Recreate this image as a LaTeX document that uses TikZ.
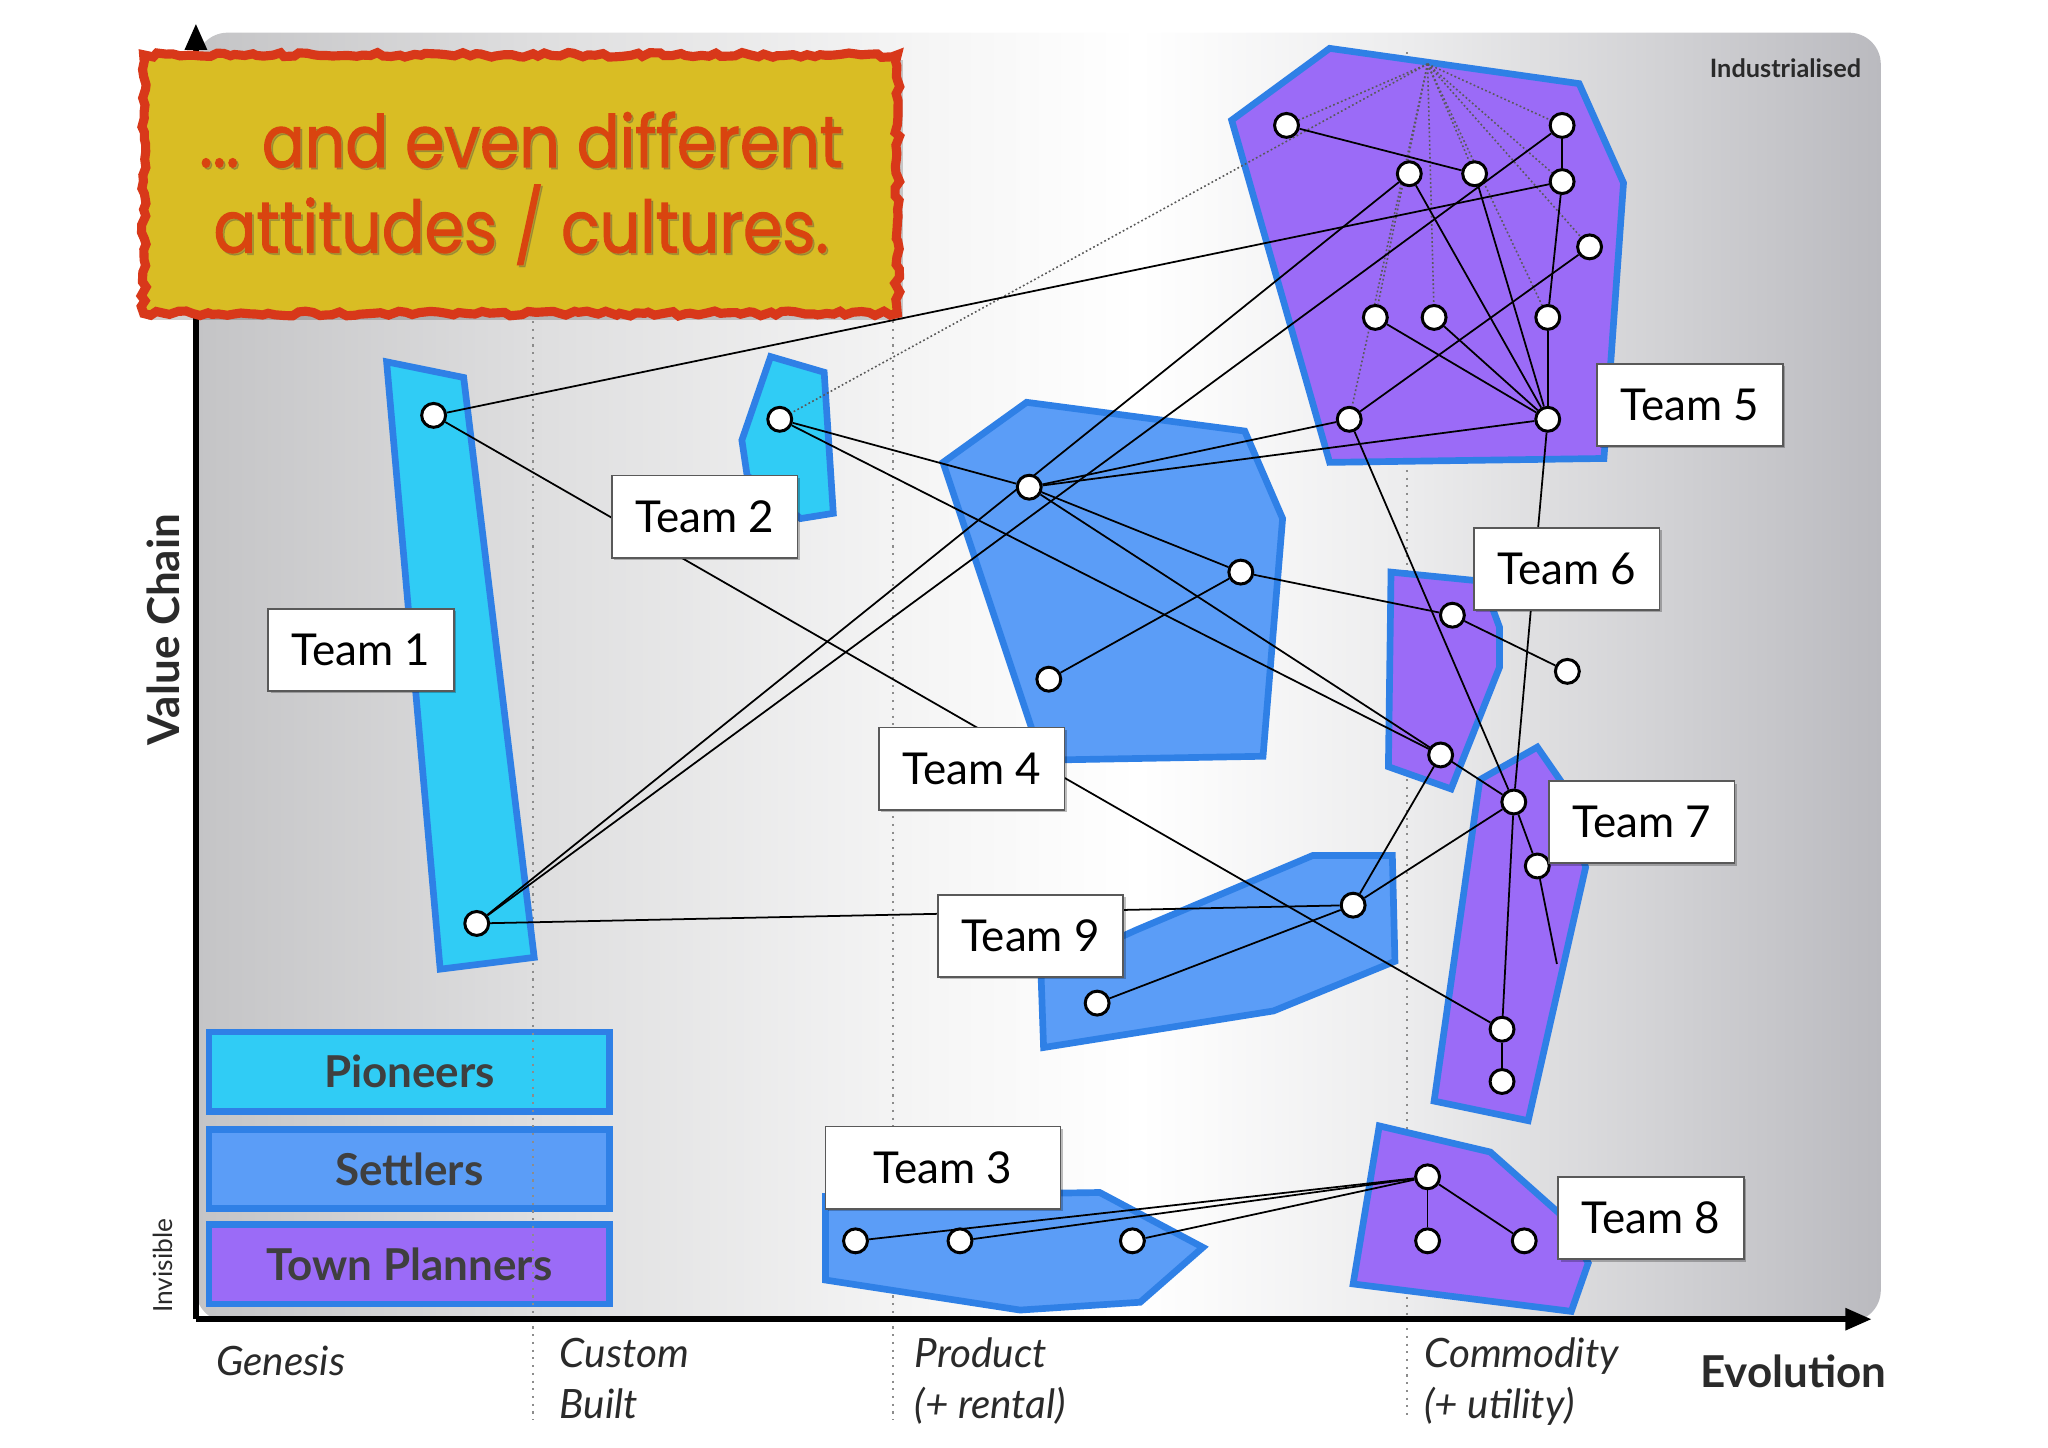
\documentclass[tikz,border=0pt]{standalone}
\usepackage{fontspec}
\setmainfont{Lato}
\newfontfamily\comicfont[FakeBold=1.6]{Poppins}
\usetikzlibrary{arrows.meta,shadows,decorations.pathmorphing}
\pgfdeclarelayer{bg}
\pgfdeclarelayer{lines}
\pgfsetlayers{bg,lines,main}

\definecolor{pion}{HTML}{30CCF5}
\definecolor{sett}{HTML}{5B9DF7}
\definecolor{town}{HTML}{9B6BF7}
\definecolor{bord}{HTML}{2F80E6}
\definecolor{ybox}{HTML}{D9BD24}
\definecolor{yred}{HTML}{D8381A}
\definecolor{ytext}{HTML}{D9440F}
\definecolor{txt}{HTML}{2A2A2A}
\definecolor{pg0}{RGB}{196,196,198}
\definecolor{pg1}{RGB}{222,222,223}
\definecolor{pg2}{RGB}{246,246,246}
\definecolor{pg3}{RGB}{236,236,237}
\definecolor{pg4}{RGB}{208,208,211}
\definecolor{pg5}{RGB}{186,186,191}
\pgfdeclarehorizontalshading{panelshade}{100bp}{color(0bp)=(pg0); color(25bp)=(pg0); color(35bp)=(pg1); color(47bp)=(pg2); color(53bp)=(white); color(61bp)=(pg3); color(69bp)=(pg4); color(75bp)=(pg5); color(100bp)=(pg5)}

\begin{document}
\begin{tikzpicture}[x=0.013061cm, y=-0.013061cm,
  dot/.style={circle, draw=black, fill=white, line width=0.85pt, minimum size=6.8pt, inner sep=0pt},
  teamlabel/.style={draw=black!65, fill=white, line width=0.5pt, minimum width=52.8pt, minimum height=23.4pt, inner sep=0pt, font=\fontsize{12.5}{14}\selectfont, text=black, drop shadow={shadow xshift=0.7pt, shadow yshift=-0.7pt, fill=black, opacity=0.25}},
  poly/.style={draw=bord, line width=1.9pt, line join=miter},
  legendbox/.style={draw=bord, line width=1.9pt, minimum width=114pt, minimum height=22.5pt, inner sep=0pt, font=\fontsize{12.5}{14}\selectfont\bfseries, text=txt!90},
  link/.style={draw=black, line width=0.5pt},
  fan/.style={draw=black!65, line width=0.45pt, dash pattern=on 0.5pt off 0.7pt},
  stage/.style={draw=black!45, line width=0.6pt, dash pattern=on 0.6pt off 1.6pt},
  axislabel/.style={font=\fontsize{11.5}{14.5}\selectfont\itshape, text=txt, align=left, anchor=north west, inner sep=0pt},
  axisarrow/.style={line width=1.6pt, -{Triangle[length=7.5pt, width=6pt]}},
  titletext/.style={font=\comicfont\fontsize{20.5}{25}\selectfont, inner sep=0pt}
]
\useasboundingbox (0,0) rectangle (1568,1108);

\begin{pgfonlayer}{bg}
% panel
\shade[shading=panelshade, rounded corners=9pt] (150,25) rectangle (1440,1012);
% legend
\node[legendbox, fill=pion] (lp) at (313.5,820.5) {Pioneers};
\node[legendbox, fill=sett] (ls) at (313.5,895) {Settlers};
\node[legendbox, fill=town] (lt) at (313.5,968) {Town Planners};
% stage lines
\coordinate (s1t) at (408,240); \coordinate (s1b) at (408,1087);
\coordinate (s2t) at (684,240); \coordinate (s2b) at (684,1087);
\coordinate (s3t) at (1077,40); \coordinate (s3b) at (1077,1087);
\draw[stage] (s1t) -- (s1b);
\draw[stage] (s2t) -- (s2b);
\draw[stage] (s3t) -- (s3b);
% team polygons
\filldraw[poly, fill=pion] (296,277) -- (355,289) -- (409,733) -- (337,742) -- cycle;
\filldraw[poly, fill=pion] (590,273) -- (631,285) -- (638,393) -- (613,397) -- (572,364) -- (568,337) -- cycle;
\filldraw[poly, fill=sett] (722,354) -- (786,308) -- (953,330) -- (982,397) -- (967,579) -- (798,582) -- cycle;
\filldraw[poly, fill=town] (1018,37) -- (1209,64) -- (1243,140) -- (1228,351) -- (1018,354) -- (943,92) -- cycle;
\filldraw[poly, fill=town] (1065,438) -- (1135,445) -- (1148,480) -- (1148,511) -- (1111,604) -- (1063,587) -- cycle;
\filldraw[poly, fill=town] (1133,597) -- (1177,572) -- (1195,598) -- (1214,664) -- (1170,858) -- (1098,843) -- cycle;
\filldraw[poly, fill=sett] (797,745) -- (870,712) -- (1005,655) -- (1066,655) -- (1068,736) -- (975,774) -- (799,802) -- cycle;
\filldraw[poly, fill=sett] (632,916) -- (842,913) -- (921,955) -- (873,997) -- (781,1003) -- (632,980) -- cycle;
\filldraw[poly, fill=town] (1056,862) -- (1141,882) -- (1195,930) -- (1216,967) -- (1203,1004) -- (1036,983) -- cycle;
% axes
\coordinate (O) at (150,1010);
\coordinate (Ytip) at (150,18);
\coordinate (Xtip) at (1433,1010);
\draw[axisarrow] (O) -- (Ytip);
\draw[axisarrow] (O) -- (Xtip);
\end{pgfonlayer}

% ---- nodes
\node[dot] (a1) at (332,318) {};
\node[dot] (a2) at (365,707) {};
\node[dot] (b1) at (597,321) {};
\node[dot] (d1) at (788,373) {};
\node[dot] (d2) at (950,438) {};
\node[dot] (d3) at (803,520) {};
\node[dot] (e1) at (985,96) {};
\node[dot] (e2) at (1196,96) {};
\node[dot] (e3) at (1079,133) {};
\node[dot] (e4) at (1129,133) {};
\node[dot] (e5) at (1196,139) {};
\node[dot] (e6) at (1217,189) {};
\node[dot] (e7) at (1053,243) {};
\node[dot] (e8) at (1098,243) {};
\node[dot] (e9) at (1185,243) {};
\node[dot] (e10) at (1033,321) {};
\node[dot] (e11) at (1185,321) {};
\coordinate (ex) at (1093,49);
\node[dot] (f1) at (1112,471) {};
\node[dot] (f2) at (1200,514) {};
\node[dot] (f3) at (1103,578) {};
\node[dot] (g1) at (1159,614) {};
\node[dot] (g2) at (1177,663) {};
\node[dot] (g3) at (1150,788) {};
\node[dot] (g4) at (1150,828) {};
\coordinate (gx) at (1192,738);
\node[dot] (i1) at (1036,693) {};
\node[dot] (i2) at (840,768) {};
\node[dot] (c1) at (655,950) {};
\node[dot] (c2) at (735,950) {};
\node[dot] (c3) at (867,950) {};
\node[dot] (h1) at (1093,901) {};
\node[dot] (h2) at (1093,950) {};
\node[dot] (h3) at (1167,950) {};

% ---- connectors
\begin{pgfonlayer}{lines}
\foreach \t in {e1,b1,e7,e10,e8,e4,e9,e6,e5,e2} \draw[fan] (ex) -- (\t);
\draw[link] (a1) -- (e5);
\draw[link] (a1) -- (g3);
\draw[link] (a2) -- (e3);
\draw[link] (a2) -- (e2);
\draw[link] (a2) -- (i1);
\draw[link] (b1) -- (d1);
\draw[link] (b1) -- (f3);
\draw[link] (d1) -- (e10);
\draw[link] (d1) -- (e11);
\draw[link] (d1) -- (d2);
\draw[link] (d1) -- (g1);
\draw[link] (d3) -- (d2);
\draw[link] (d2) -- (f1);
\draw[link] (f1) -- (f2);
\draw[link] (e1) -- (e4);
\draw[link] (e2) -- (e5);
\draw[link] (e5) -- (e9);
\draw[link] (e9) -- (e11);
\draw[link] (e3) -- (e11);
\draw[link] (e4) -- (e11);
\draw[link] (e7) -- (e11);
\draw[link] (e8) -- (e11);
\draw[link] (e6) -- (e10);
\draw[link] (e10) -- (g1);
\draw[link] (e11) -- (g1);
\draw[link] (g1) -- (g3);
\draw[link] (g3) -- (g4);
\draw[link] (g1) -- (g2);
\draw[link] (g2) -- (gx);
\draw[link] (f3) -- (i1);
\draw[link] (g1) -- (i1);
\draw[link] (i2) -- (i1);
\draw[link] (c1) -- (h1);
\draw[link] (c2) -- (h1);
\draw[link] (c3) -- (h1);
\draw[link] (h1) -- (h2);
\draw[link] (h1) -- (h3);
\end{pgfonlayer}

% ---- team labels
\node[teamlabel] (t1) at (276.5,497.5) {Team 1};
\node[teamlabel] (t2) at (539.5,395.5) {Team 2};
\node[teamlabel, minimum width=66.9pt] (t3) at (722,894) {Team 3};
\node[teamlabel] (t4) at (744,588.5) {Team 4};
\node[teamlabel] (t5) at (1294,310) {Team 5};
\node[teamlabel] (t6) at (1199.5,435.5) {Team 6};
\node[teamlabel] (t7) at (1257,629.5) {Team 7};
\node[teamlabel] (t8) at (1264,932.5) {Team 8};
\node[teamlabel] (t9) at (789,716.5) {Team 9};

% ---- axis texts
\node[font=\fontsize{12.5}{14}\selectfont\bfseries, text=txt, rotate=90] (vc) at (125,482) {Value Chain};
\node[font=\fontsize{7.5}{9}\selectfont, text=txt, rotate=90] (inv) at (125,969) {Invisible};
\node[font=\fontsize{7.2}{9}\selectfont\bfseries, text=txt] (ind) at (1367,52) {Industrialised};
\node[font=\fontsize{12.5}{14}\selectfont\bfseries, text=txt] (evo) at (1373,1050) {Evolution};
\node[axislabel] (gen) at (165,1030) {Genesis};
\node[axislabel] (cus) at (428,1024) {Custom\\Built};
\node[axislabel] (pro) at (700,1024) {Product\\(+ rental)};
\node[axislabel] (com) at (1090,1024) {Commodity\\(+ utility)};

% ---- title box
\pgfmathsetseed{7}
\fill[black, opacity=0.18] (113,46) rectangle (691,245);
\draw[yred, fill=ybox, line width=2.6pt, decorate, decoration={random steps, segment length=2pt, amplitude=0.7pt}] (110,42) rectangle (687,240);
\node[titletext, text=black!70, opacity=0.3] (sh1) at (400.5,108.5) {\scalebox{0.88}[1]{... and even different}};
\node[titletext, text=black!70, opacity=0.3] (sh2) at (400.5,173.5) {\scalebox{0.88}[1]{attitudes / cultures.}};
\node[titletext, text=ytext] (title1) at (399,107) {\scalebox{0.88}[1]{... and even different}};
\node[titletext, text=ytext] (title2) at (399,172) {\scalebox{0.88}[1]{attitudes / cultures.}};
\end{tikzpicture}
\end{document}
